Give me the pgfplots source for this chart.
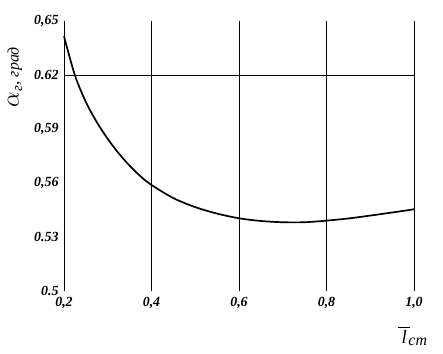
\documentclass[border=0pt]{standalone}
\usepackage{fontspec}
\setmainfont{Liberation Serif}
\usepackage{pgfplots}
\pgfplotsset{compat=1.18}
\begin{document}
\begin{tikzpicture}
\path[use as bounding box] (-64bp,-63bp) rectangle (379bp,291bp);
\begin{axis}[
 at={(0,0)}, anchor=south west,
 scale only axis, width=350bp, height=270bp,
 xmin=0.2, xmax=1.0, ymin=0.5, ymax=0.65,
 axis line style={draw=none},
 xtick={0.2,0.4,0.6,0.8,1.0},
 xticklabels={{0,2},{0,4},{0,6},{0,8},{1,0}},
 ytick={0.5,0.53,0.56,0.59,0.62,0.65},
 yticklabels={{0.5},{0.53},{0,56},{0,59},{0.62},{0,65}},
 xmajorgrids, ymajorgrids=false,
 major grid style={black, line width=0.8bp, solid},
 major tick length=0pt,
 ticklabel style={font=\fontsize{14}{16}\selectfont\bfseries\itshape},
 xticklabel style={yshift=-3bp},
 yticklabel style={xshift=-2bp},
 clip=false,
]
\draw[black, line width=0.8bp] (axis cs:0.2,0.62) -- (axis cs:1.0,0.62);
\addplot[black, line width=1.7bp, smooth, tension=0.5] coordinates {
 (0.2,0.6415) (0.225,0.6198) (0.25,0.6050) (0.275,0.5938) (0.30,0.5845)
 (0.325,0.5765) (0.35,0.5696) (0.375,0.5637) (0.40,0.5589) (0.45,0.5516)
 (0.50,0.5466) (0.55,0.5430) (0.60,0.5404) (0.65,0.5389) (0.70,0.5382)
 (0.75,0.5382) (0.80,0.5391) (0.85,0.5403) (0.90,0.5419) (0.95,0.5436)
 (1.00,0.5454)
};
\end{axis}
\node[rotate=90] at (-49bp,214bp) {{\fontsize{26}{28}\selectfont$\alpha$}\textsubscript{\fontsize{15}{17}\selectfont\itshape г}{\fontsize{16}{18}\selectfont\itshape, град}};
\node at (349bp,-45bp) {\fontsize{19}{21}\selectfont$\overline{\rule{0pt}{15bp}\hbox{\itshape\,l\,}}$\kern-1.5pt\textsubscript{\fontsize{16}{18}\selectfont\itshape ст}};
\end{tikzpicture}
\end{document}
